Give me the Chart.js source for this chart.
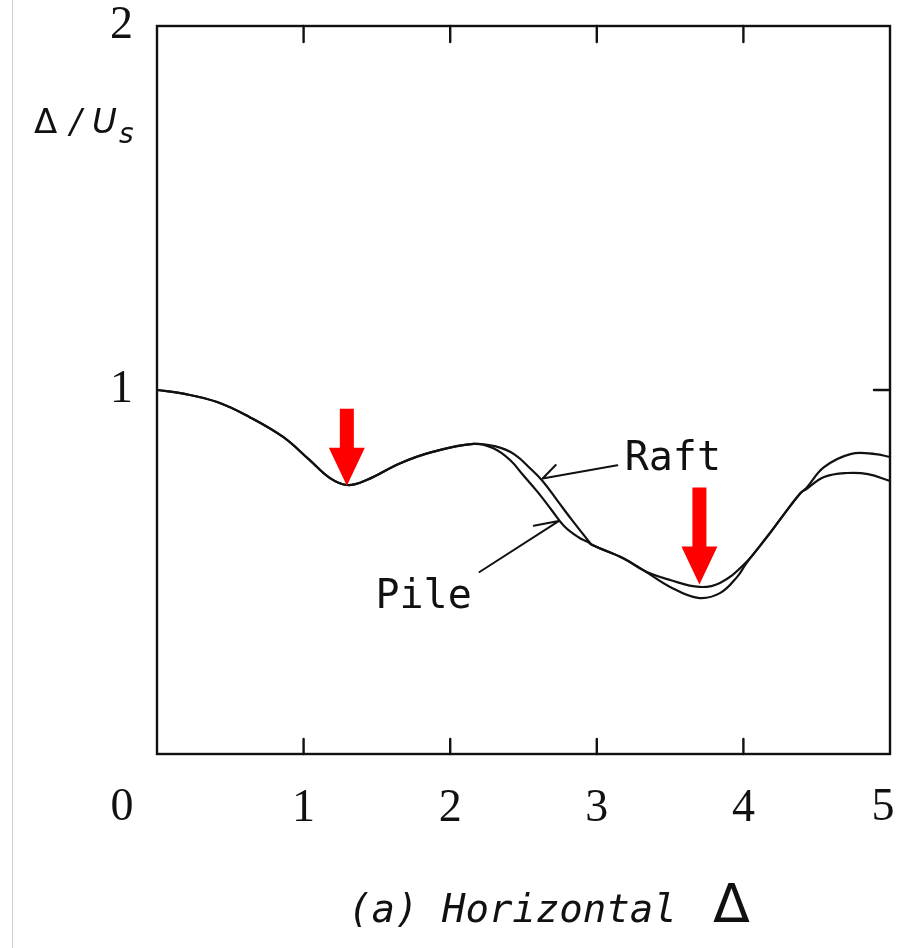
<!DOCTYPE html>
<html><head><meta charset="utf-8">
<script src="https://cdn.jsdelivr.net/npm/chart.js@4"></script>
<style>
html,body{margin:0;padding:0;background:#fff;}
#wrap{position:relative;width:898px;height:948px;}
#edge{position:absolute;left:12px;top:0;width:1px;height:948px;background:#d0d0d0;}
canvas{position:absolute;left:0;top:0;}
</style>
</head><body>
<div id="wrap"><div id="edge"></div><canvas id="c" width="898" height="948"></canvas></div>
<script>
// ---- data ----
const raftX = [0, 0.18, 0.41, 0.63, 0.86, 1.04, 1.18, 1.30, 1.43, 1.66, 1.88, 2.16, 2.31, 2.435, 2.55, 2.63, 2.735, 2.83, 2.94, 2.97, 3.18, 3.33, 3.50, 3.70, 3.84, 4.00, 4.16, 4.27, 4.39, 4.43, 4.55, 4.73, 4.90, 5.00];
const raftY = [1.000, 0.990, 0.967, 0.926, 0.871, 0.808, 0.758, 0.739, 0.753, 0.799, 0.830, 0.852, 0.845, 0.824, 0.783, 0.750, 0.694, 0.643, 0.587, 0.574, 0.538, 0.502, 0.478, 0.459, 0.470, 0.519, 0.596, 0.655, 0.717, 0.731, 0.788, 0.824, 0.824, 0.816];
const pileX = [0, 0.18, 0.41, 0.63, 0.86, 1.04, 1.18, 1.30, 1.43, 1.66, 1.88, 2.16, 2.295, 2.41, 2.50, 2.60, 2.69, 2.78, 2.88, 2.94, 2.97, 3.18, 3.33, 3.50, 3.69, 3.84, 3.96, 4.02, 4.16, 4.27, 4.39, 4.43, 4.55, 4.71, 4.85, 5.00];
const pileY = [1.000, 0.990, 0.967, 0.926, 0.871, 0.808, 0.758, 0.739, 0.753, 0.799, 0.830, 0.852, 0.840, 0.807, 0.765, 0.718, 0.671, 0.625, 0.594, 0.582, 0.574, 0.538, 0.502, 0.459, 0.429, 0.442, 0.488, 0.524, 0.596, 0.655, 0.717, 0.728, 0.761, 0.772, 0.769, 0.750];
const xTickLabels = ['0', '1', '2', '3', '4', '5'];
const yTickLabels = ['0', '1', '2'];
const seriesNames = ['Raft', 'Pile'];
const arrowX = [1.295, 3.70];
const arrowTipY = [0.737, 0.466];
const xTitleText = '(a) Horizontal';
const xTitleSymbol = '\u0394';
const yTitleParts = ['\u0394', '/', 'U', 's'];

// ---- styling / annotation placement (value units) ----
const INK = '#111';
const arrowLen = [77, 97];
const raftLabelAt = {x: 3.19, y: 0.808};
const raftLeader = [[3.14, 0.793], [2.63, 0.757]];
const raftBarb = [[2.63, 0.757], [2.72, 0.794]];
const pileLabelAt = {x: 1.49, y: 0.431};
const pileLeader = [[2.20, 0.500], [2.74, 0.640]];
const pileBarb = [[2.74, 0.640], [2.57, 0.627]];

const toPts = (xs, ys) => xs.map((x, i) => ({x: x, y: ys[i]}));

const decor = {
  id: 'decor',
  afterDatasetsDraw(chart) {
    const {ctx, chartArea: a, scales} = chart;
    const xs = scales.x, ys = scales.y;
    const px = v => xs.getPixelForValue(v), py = v => ys.getPixelForValue(v);
    ctx.save();
    ctx.strokeStyle = INK; ctx.lineWidth = 2.4; ctx.lineCap = 'round';
    // frame
    ctx.strokeRect(a.left, a.top, a.right - a.left, a.bottom - a.top);
    // inward ticks: top & bottom at 1..4, right at y=1
    ctx.beginPath();
    for (let v = 1; v <= 4; v++) {
      const x = px(v);
      ctx.moveTo(x, a.bottom); ctx.lineTo(x, a.bottom - 15);
      ctx.moveTo(x, a.top); ctx.lineTo(x, a.top + 16);
    }
    ctx.moveTo(a.right, py(1)); ctx.lineTo(a.right - 16, py(1));
    ctx.stroke();
    // corner "0" and end "5"
    ctx.fillStyle = INK;
    ctx.font = '46px "Liberation Serif", serif';
    ctx.textAlign = 'center'; ctx.textBaseline = 'middle';
    ctx.fillText(xTickLabels[0], px(0) - 35, 808);
    ctx.fillText(xTickLabels[5], px(5) - 7, 808);
    // y title
    ctx.textAlign = 'left'; ctx.textBaseline = 'alphabetic';
    ctx.font = '34px "DejaVu Sans", sans-serif';
    ctx.fillText(yTitleParts[0], 34, 133);
    ctx.font = 'italic 34px "DejaVu Sans", sans-serif';
    ctx.fillText(yTitleParts[1], 70, 133);
    ctx.fillText(yTitleParts[2], 92, 133);
    ctx.font = 'italic 28px "DejaVu Sans", sans-serif';
    ctx.fillText(yTitleParts[3], 119, 143);
    // x title
    ctx.font = 'italic 39px "DejaVu Sans Mono", monospace';
    ctx.fillText(xTitleText, 348, 922);
    ctx.font = '54px "DejaVu Sans", sans-serif';
    ctx.fillText(xTitleSymbol, 713, 922);
    // curve labels
    ctx.font = '40px "DejaVu Sans Mono", monospace';
    ctx.textBaseline = 'middle';
    ctx.fillText(seriesNames[0], px(raftLabelAt.x), py(raftLabelAt.y));
    ctx.fillText(seriesNames[1], px(pileLabelAt.x), py(pileLabelAt.y));
    ctx.lineWidth = 2;
    const seg = s => { ctx.moveTo(px(s[0][0]), py(s[0][1])); ctx.lineTo(px(s[1][0]), py(s[1][1])); };
    ctx.beginPath(); seg(raftLeader); seg(raftBarb); seg(pileLeader); seg(pileBarb); ctx.stroke();
    // red arrows
    ctx.fillStyle = '#ff0000';
    arrowX.forEach((v, i) => {
      const tx = px(v), ty = py(arrowTipY[i]);
      const headH = 38, headW = 18, shaftW = 7, L = arrowLen[i];
      ctx.beginPath();
      ctx.moveTo(tx, ty);
      ctx.lineTo(tx - headW, ty - headH);
      ctx.lineTo(tx - shaftW, ty - headH);
      ctx.lineTo(tx - shaftW, ty - L);
      ctx.lineTo(tx + shaftW, ty - L);
      ctx.lineTo(tx + shaftW, ty - headH);
      ctx.lineTo(tx + headW, ty - headH);
      ctx.closePath(); ctx.fill();
    });
    ctx.restore();
  }
};

new Chart(document.getElementById('c'), {
  type: 'line',
  data: {
    datasets: [
      {label: seriesNames[0], data: toPts(raftX, raftY), borderColor: INK, borderWidth: 2.2, pointRadius: 0, fill: false, tension: 0.4},
      {label: seriesNames[1], data: toPts(pileX, pileY), borderColor: INK, borderWidth: 2.2, pointRadius: 0, fill: false, tension: 0.4}
    ]
  },
  options: {
    responsive: false, animation: false,
    layout: {padding: {left: 0, right: 8, top: 26, bottom: 0}},
    plugins: {legend: {display: false}, tooltip: {enabled: false}},
    scales: {
      x: {
        type: 'linear', min: 0, max: 5,
        grid: {display: false}, border: {display: false},
        ticks: {stepSize: 1, color: INK, padding: 24, maxRotation: 0,
          font: {family: '"Liberation Serif", serif', size: 46, lineHeight: 1},
          callback: v => (v === 0 || v === 5) ? '' : xTickLabels[v]},
        afterFit: s => { s.height = 194; s.paddingLeft = 0; s.paddingRight = 0; }
      },
      y: {
        min: 0, max: 2,
        grid: {display: false}, border: {display: false},
        ticks: {stepSize: 1, color: INK, padding: 16,
          font: {family: '"Liberation Serif", serif', size: 46, lineHeight: 1},
          callback: v => v === 0 ? '' : yTickLabels[v]},
        afterFit: s => { s.width = 157; s.paddingTop = 0; s.paddingBottom = 0; }
      }
    }
  },
  plugins: [decor]
});
</script>
</body></html>
